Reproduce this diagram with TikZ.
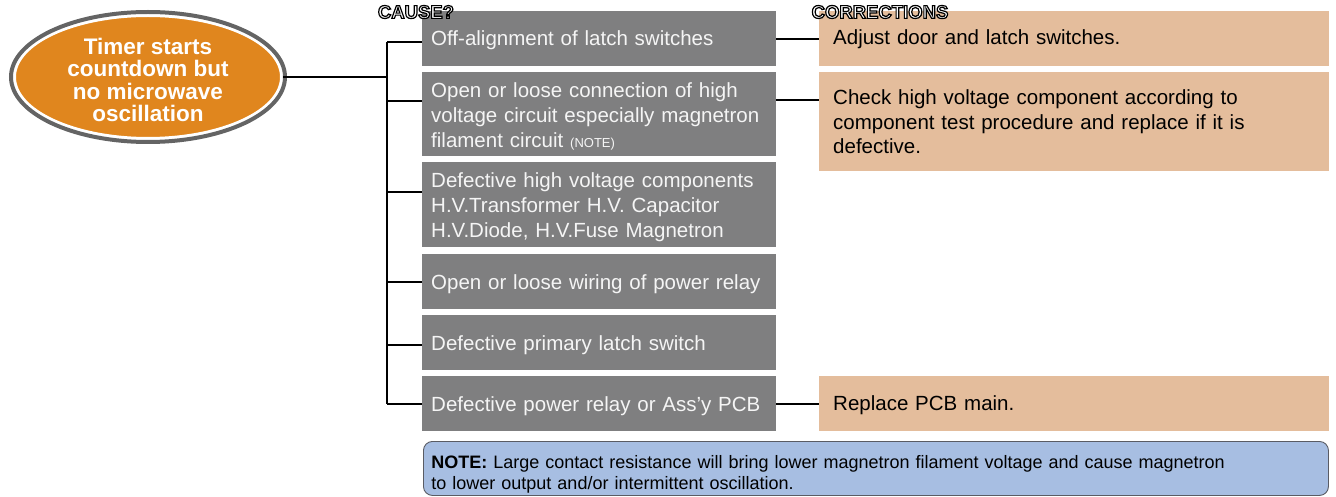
\documentclass[tikz,border=0pt]{standalone}
\usepackage{fontspec}
\setmainfont{Liberation Sans}
\usetikzlibrary{shapes.geometric,calc}
\definecolor{boxgray}{RGB}{127,127,128}
\definecolor{boxtext}{RGB}{245,245,245}
\definecolor{fixfill}{RGB}{228,189,156}
\definecolor{ellorange}{RGB}{224,134,30}
\definecolor{ellring}{RGB}{100,100,100}
\definecolor{noteblue}{RGB}{167,190,226}
\definecolor{noteborder}{RGB}{90,92,100}
\newcommand\padtop[1]{\rule{0pt}{#1}}
\begin{document}
\begin{tikzpicture}[x=1pt,y=-1pt,
  causebox/.style={fill=boxgray, text=boxtext, anchor=north west, minimum width=354pt,
    inner xsep=9pt, inner ysep=0pt, text width=336pt, align=left,
    font=\fontsize{20.5}{25}\selectfont},
  fixbox/.style={fill=fixfill, text=black, anchor=north west, minimum width=510pt,
    inner xsep=14pt, inner ysep=0pt, text width=482pt, align=left,
    font=\fontsize{20.5}{24.5}\selectfont},
  notebox/.style={fill=noteblue, draw=noteborder, line width=0.9pt, rounded corners=9pt,
    anchor=north west, minimum width=905pt, minimum height=54pt, inner xsep=8pt,
    inner ysep=0pt, text width=889pt, align=left, text=black,
    font=\fontsize{18}{21}\selectfont},
  link/.style={line width=1.6pt, black},
  header/.style={font=\bfseries\fontsize{18.5}{18.5}\selectfont, text=white, inner sep=0pt}]

\useasboundingbox (0,0) rectangle (1336,497);

% central ellipse
\node[ellipse, fill=ellorange, draw=white, line width=3pt, minimum width=267pt,
  minimum height=123pt, inner xsep=0pt, inner ysep=-6pt, text=white, align=center,
  font=\bfseries\fontsize{22.5}{22.5}\selectfont] (ell) at (148,77)
  {\padtop{22.5pt}Timer starts\\countdown but\\no microwave\\oscillation};
\draw[ellring, line width=4pt] (ell.center) ellipse [x radius=137pt, y radius=65pt];

% cause boxes
\node[causebox, minimum height=55pt] (g1) at (422,11) {\padtop{18pt}Off-alignment of latch switches};
\node[causebox, minimum height=84pt] (g2) at (422,72)
  {\padtop{19pt}Open or loose connection of high\\voltage circuit especially magnetron\\filament circuit {\fontsize{13}{13}\selectfont (NOTE)}};
\node[causebox, minimum height=85pt] (g3) at (422,162)
  {\padtop{19pt}Defective high voltage components\\H.V.Transformer H.V. Capacitor\\H.V.Diode, H.V.Fuse Magnetron};
\node[causebox, minimum height=55pt] (g4) at (422,254) {\padtop{19pt}Open or loose wiring of power relay};
\node[causebox, minimum height=55pt] (g5) at (422,315) {\padtop{19pt}Defective primary latch switch};
\node[causebox, minimum height=55pt] (g6) at (422,376) {\padtop{19pt}Defective power relay or Ass’y PCB};

% correction boxes
\node[fixbox, minimum height=55pt] (f1) at (819,11) {\padtop{16pt}Adjust door and latch switches.};
\node[fixbox, minimum height=99pt] (f2) at (819,72)
  {\padtop{15pt}Check high voltage component according to\\component test procedure and replace if it is\\defective.};
\node[fixbox, minimum height=55pt] (f3) at (819,376) {\padtop{17pt}Replace PCB main.};

% note
\node[notebox] (note) at (423,441)
  {\padtop{25pt}\textbf{NOTE:} Large contact resistance will bring lower magnetron filament voltage and cause magnetron\\to lower output and/or intermittent oscillation.};

% headers
\node[header] (cause) at (416,12)
  {\special{pdf:literal direct 2 Tr 1.2 w 0 G}CAUSE?\special{pdf:literal direct 0 Tr}};
\node[header] (corr) at (880,12)
  {\special{pdf:literal direct 2 Tr 1.2 w 0 G}CORRECTIONS\special{pdf:literal direct 0 Tr}};

% connectors
\coordinate (jx) at (387,76);
\coordinate (t1) at ([yshift=-31pt]g1.north west);
\coordinate (t2) at ([yshift=-29pt]g2.north west);
\coordinate (t3) at ([yshift=-30pt]g3.north west);
\coordinate (t4) at ([yshift=-28pt]g4.north west);
\coordinate (t5) at ([yshift=-30pt]g5.north west);
\coordinate (t6) at ([yshift=-28pt]g6.north west);
\draw[link] (ell.east) -- (ell.east -| jx);
\draw[link] (t1 -| jx) -- (t6 -| jx);
\foreach \t in {t1,t2,t3,t4,t5,t6} { \draw[link] (\t -| jx) -- (\t); }

\coordinate (r1) at ([yshift=-28pt]g1.north east);
\coordinate (r2) at ([yshift=-28pt]g2.north east);
\coordinate (r6) at ([yshift=-28pt]g6.north east);
\draw[link] (r1) -- (r1 -| f1.west);
\draw[link] (r2) -- (r2 -| f2.west);
\draw[link] (r6) -- (r6 -| f3.west);
\end{tikzpicture}
\end{document}
